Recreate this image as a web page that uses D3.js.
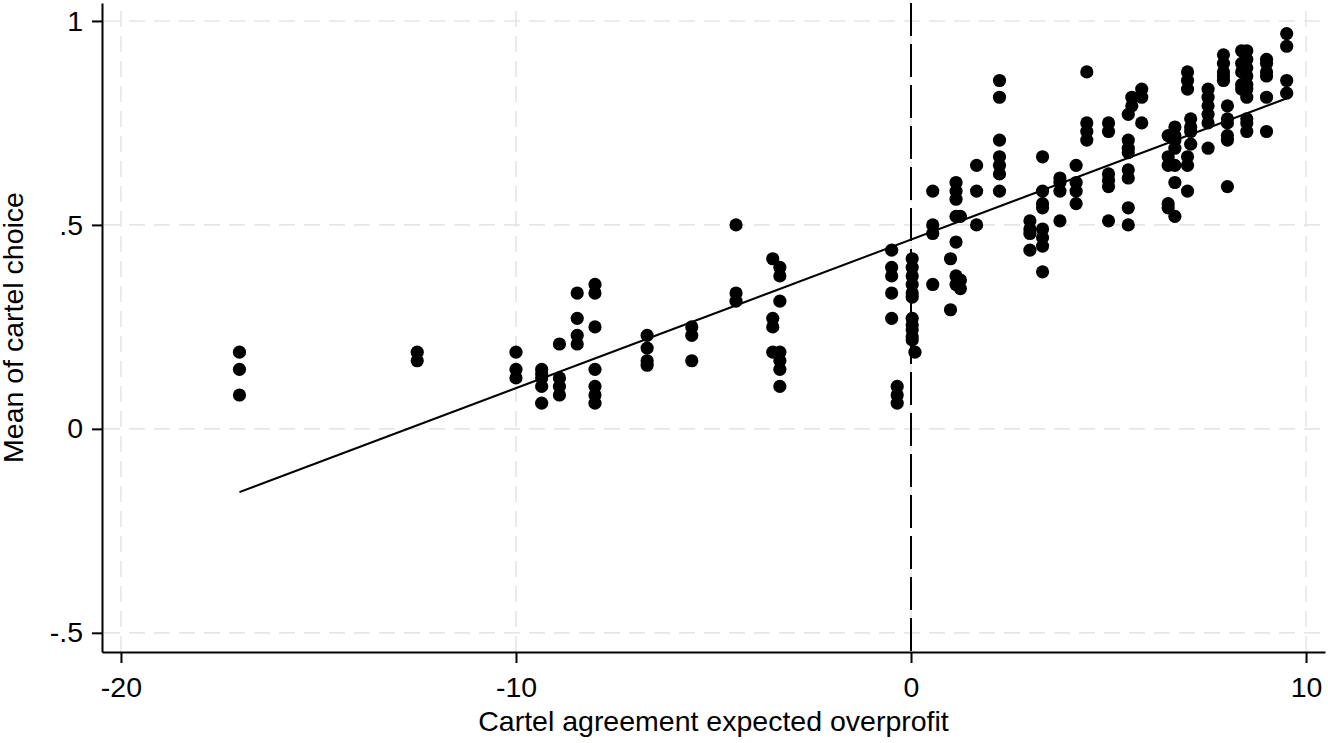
<!DOCTYPE html>
<html>
<head>
<meta charset="utf-8">
<script src="https://cdn.jsdelivr.net/npm/d3@7/dist/d3.min.js"></script>
<style>
  body { margin: 0; background: #fff; }
  text { font-family: "Liberation Sans", Arial, sans-serif; }
</style>
</head>
<body>
<script>
// expected overprofit of each group of observations (x positions)
var groupX = [-17.0, -12.5, -10.0, -9.35, -8.9, -8.45, -8.0, -6.68, -5.55, -4.43,
              -3.5, -3.32, -0.49, -0.35, 0.03, 0.1, 0.55, 1.0, 1.14, 1.25,
              1.66, 2.24, 3.01, 3.33, 3.77, 4.18, 4.45, 5.0, 5.5, 5.59,
              5.84, 6.51, 6.68, 7.0, 7.08, 7.52, 7.91, 8.01, 8.37, 8.5,
              9.0, 9.51];

// mean of cartel choice for the observations in each group
var groupMeans = [
  [0.188, 0.146, 0.083],
  [0.188, 0.167],
  [0.188, 0.146, 0.125],
  [0.146, 0.135, 0.125, 0.104, 0.063],
  [0.208, 0.125, 0.104, 0.083],
  [0.333, 0.271, 0.229, 0.208],
  [0.354, 0.333, 0.250, 0.146, 0.104, 0.083, 0.063],
  [0.229, 0.198, 0.167, 0.156],
  [0.250, 0.229, 0.167],
  [0.500, 0.333, 0.313],
  [0.417, 0.271, 0.250, 0.188],
  [0.396, 0.375, 0.313, 0.188, 0.167, 0.146, 0.104],
  [0.438, 0.396, 0.375, 0.333, 0.271],
  [0.104, 0.083, 0.063],
  [0.417, 0.396, 0.375, 0.354, 0.333, 0.323, 0.271, 0.255, 0.243, 0.226, 0.218],
  [0.188],
  [0.583, 0.500, 0.479, 0.354],
  [0.417, 0.292],
  [0.604, 0.583, 0.563, 0.521, 0.458, 0.375, 0.354],
  [0.521, 0.365, 0.344],
  [0.646, 0.583, 0.500],
  [0.854, 0.813, 0.708, 0.667, 0.646, 0.625, 0.583],
  [0.510, 0.490, 0.479, 0.438],
  [0.667, 0.583, 0.552, 0.542, 0.490, 0.469, 0.448, 0.385],
  [0.615, 0.604, 0.583, 0.510],
  [0.646, 0.604, 0.583, 0.552],
  [0.875, 0.750, 0.729, 0.708],
  [0.750, 0.729, 0.625, 0.609, 0.594, 0.510],
  [0.771, 0.708, 0.688, 0.677, 0.635, 0.615, 0.542, 0.500],
  [0.813, 0.792],
  [0.833, 0.813, 0.750],
  [0.719, 0.667, 0.646, 0.552, 0.542],
  [0.740, 0.719, 0.708, 0.688, 0.646, 0.604, 0.521],
  [0.875, 0.854, 0.833, 0.667, 0.646, 0.583],
  [0.760, 0.740, 0.729, 0.698],
  [0.833, 0.813, 0.792, 0.771, 0.750, 0.688],
  [0.917, 0.896, 0.875, 0.865, 0.854],
  [0.792, 0.760, 0.750, 0.719, 0.708, 0.594],
  [0.927, 0.896, 0.875, 0.844, 0.833],
  [0.927, 0.906, 0.885, 0.865, 0.844, 0.833, 0.813, 0.760, 0.750, 0.729],
  [0.906, 0.896, 0.875, 0.865, 0.813, 0.729],
  [0.969, 0.938, 0.854, 0.823]
];

// linear fit endpoints
var fitX = [-17, 9.5];
var fitY = [-0.155, 0.81];

var xTicks = [-20, -10, 0, 10];
var xTickLabels = ["-20", "-10", "0", "10"];
var yTicks = [-0.5, 0, 0.5, 1];
var yTickLabels = ["-.5", "0", ".5", "1"];

var w = 1328, h = 743;
var plotL = 102, plotR = 1325, plotT = 3, plotB = 652;
var fontSize = "28.5px";

var points = [];
groupX.forEach(function (x, i) {
  groupMeans[i].forEach(function (y) { points.push({ x: x, y: y }); });
});

var svg = d3.select("body").append("svg")
  .attr("width", w)
  .attr("height", h);

var x = d3.scaleLinear().domain([-20.48, 10.48]).range([plotL, plotR]);
var y = d3.scaleLinear().domain([-0.547, 1.044]).range([plotB, plotT]);

// grid
svg.append("g").selectAll("line")
  .data(yTicks).enter().append("line")
  .attr("x1", plotL + 2).attr("x2", plotR)
  .attr("y1", d => y(d)).attr("y2", d => y(d))
  .attr("stroke", "#e6e6e6").attr("stroke-width", 1.6)
  .attr("stroke-dasharray", "16,9");

svg.append("g").selectAll("line")
  .data(xTicks).enter().append("line")
  .attr("x1", d => x(d)).attr("x2", d => x(d))
  .attr("y1", plotT + 8).attr("y2", plotB)
  .attr("stroke", "#e6e6e6").attr("stroke-width", 1.6)
  .attr("stroke-dasharray", "16,9");

// reference line at zero
svg.append("line")
  .attr("x1", x(0)).attr("x2", x(0))
  .attr("y1", plotT).attr("y2", plotB)
  .attr("stroke", "#000").attr("stroke-width", 2)
  .attr("stroke-dasharray", "33,8");

// axes
var yAxis = d3.axisLeft(y)
  .tickValues(yTicks)
  .tickFormat((d, i) => yTickLabels[i])
  .tickSize(10).tickSizeOuter(0).tickPadding(9);
var xAxis = d3.axisBottom(x)
  .tickValues(xTicks)
  .tickFormat((d, i) => xTickLabels[i])
  .tickSize(11).tickSizeOuter(0).tickPadding(14);

var gy = svg.append("g").attr("transform", "translate(" + plotL + ",0)").call(yAxis);
var gx = svg.append("g").attr("transform", "translate(0," + plotB + ")").call(xAxis);

[gx, gy].forEach(function (g) {
  g.attr("font-size", fontSize).attr("font-family", '"Liberation Sans", Arial, sans-serif');
  g.selectAll("path, line").attr("stroke", "#000").attr("stroke-width", 2);
  g.selectAll("text").attr("fill", "#000");
});

// dots
svg.append("g").selectAll("circle")
  .data(points).enter().append("circle")
  .attr("cx", d => x(d.x))
  .attr("cy", d => y(d.y))
  .attr("r", 6.6)
  .attr("fill", "#000");

// fitted line
svg.append("line")
  .attr("x1", x(fitX[0])).attr("y1", y(fitY[0]))
  .attr("x2", x(fitX[1])).attr("y2", y(fitY[1]))
  .attr("stroke", "#000").attr("stroke-width", 2);

// titles
svg.append("text")
  .attr("x", (plotL + plotR) / 2)
  .attr("y", 731)
  .attr("text-anchor", "middle")
  .attr("font-size", fontSize)
  .text("Cartel agreement expected overprofit");

svg.append("text")
  .attr("transform", "translate(23," + ((plotT + plotB) / 2) + ") rotate(-90)")
  .attr("text-anchor", "middle")
  .attr("font-size", fontSize)
  .text("Mean of cartel choice");
</script>
</body>
</html>
